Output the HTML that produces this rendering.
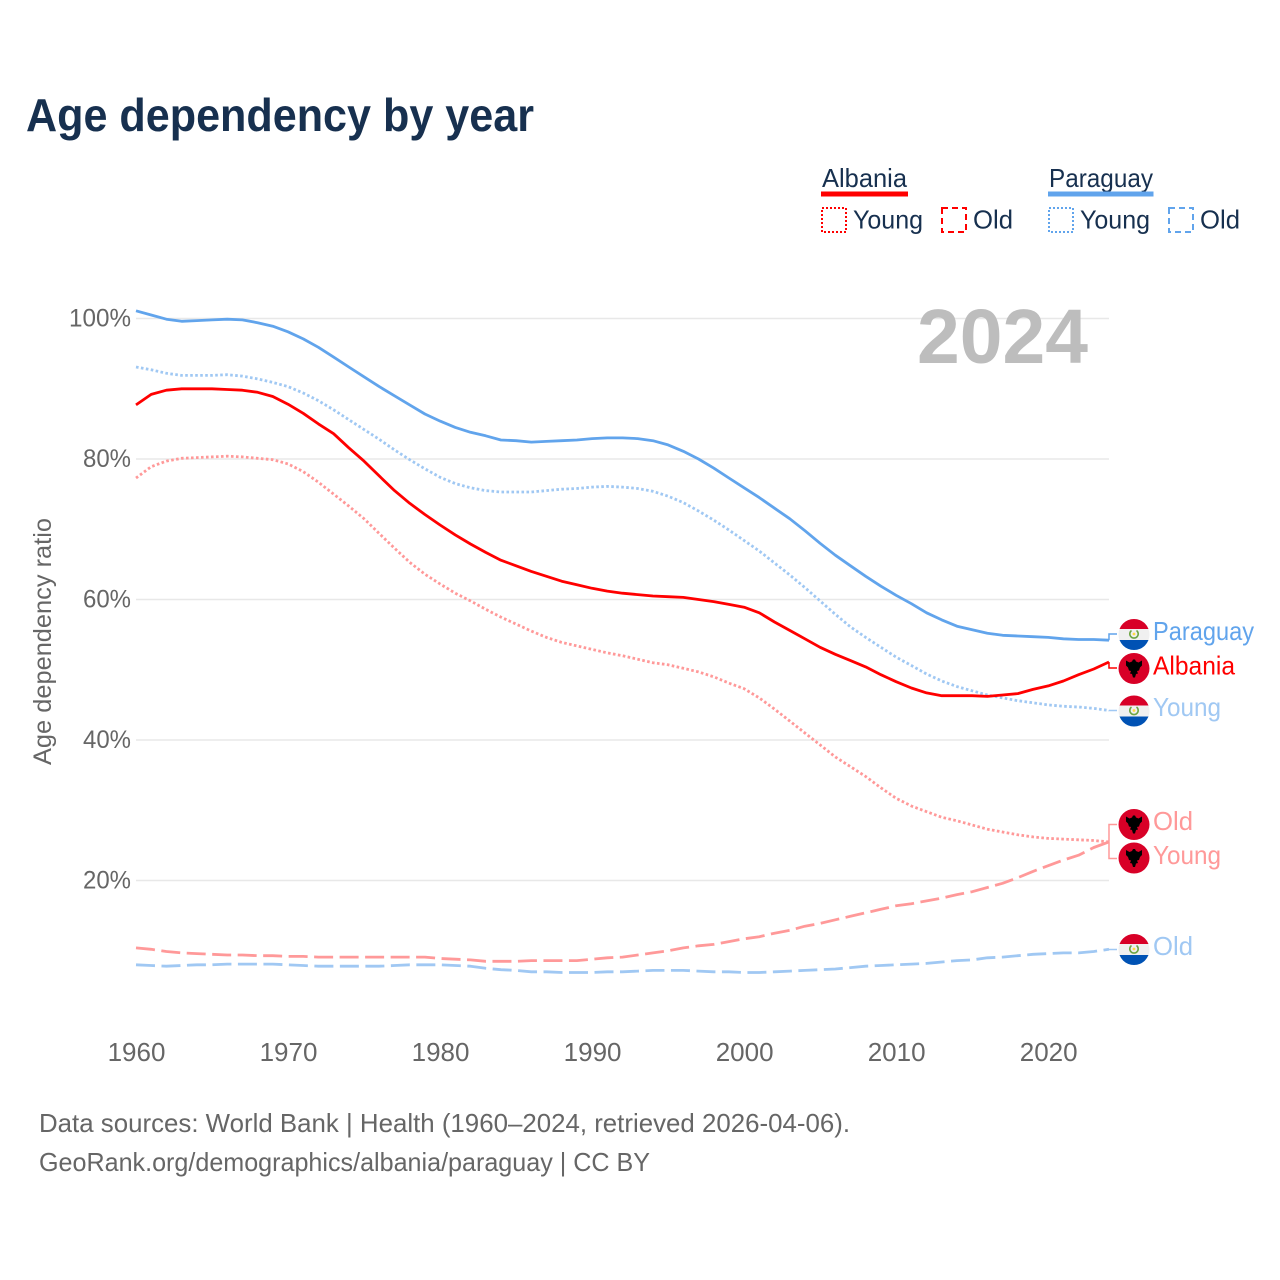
<!DOCTYPE html>
<html lang="en">
<head>
<meta charset="utf-8">
<title>Age dependency by year</title>
<style>
html,body{margin:0;padding:0;background:#fff}
svg{display:block}
text{font-family:"Liberation Sans",sans-serif}
</style>
</head>
<body>
<svg id="chart" width="1280" height="1280" viewBox="0 0 1280 1280">
  <defs>
    <clipPath id="flag-clip"><circle cx="0" cy="0" r="15.500"/></clipPath>
    <symbol id="flag-py" overflow="visible">
      <g clip-path="url(#flag-clip)">
        <rect x="-16" y="-16" width="32" height="10.500" fill="#d80027"/>
        <rect x="-16" y="-5.500" width="32" height="11" fill="#f0f0f0"/>
        <rect x="-16" y="5.500" width="32" height="10.500" fill="#0052b4"/>
        <path d="M-2.500 -4 A4.200 4.200 0 1 0 2.500 -4" fill="none" stroke="#6da544" stroke-width="1.600"/>
        <circle cx="0" cy="-0.500" r="1.400" fill="#ffda44"/>
      </g>
    </symbol>
    <symbol id="flag-al" overflow="visible">
      <circle cx="0" cy="0" r="15.500" fill="#d80027"/>
      <path d="M-8 -8 L-4.500 -6 L-2 -7 L-1 -9 L1 -9 L2 -7 L4.500 -6 L8 -8 L8 -3 L6 -1 L5 2 L3 2.500 L4 5 L2 5.500 L1 9 L-1 9 L-2 5.500 L-4 5 L-3 2.500 L-5 2 L-6 -1 L-8 -3 Z" fill="#000"/>
    </symbol>
  </defs>

  <rect x="0" y="0" width="1280" height="1280" fill="#fff"/>

  <text x="26" y="131" font-size="46" font-weight="700" fill="#17304f" textLength="508" lengthAdjust="spacingAndGlyphs">Age dependency by year</text>

  <g>
    <text x="822" y="187" font-size="26" fill="#17304f" textLength="85" lengthAdjust="spacingAndGlyphs">Albania</text>
    <rect x="821" y="191.500" width="87" height="5" fill="#ff0000"/>
    <rect x="822" y="208" width="24" height="24" fill="none" stroke="#ff0000" stroke-width="2" stroke-dasharray="2 2"/>
    <text x="853" y="228.500" font-size="26" fill="#17304f" textLength="70" lengthAdjust="spacingAndGlyphs">Young</text>
    <rect x="942" y="208" width="24" height="24" fill="none" stroke="#ff0000" stroke-width="2" stroke-dasharray="6 4"/>
    <text x="973" y="228.500" font-size="26" fill="#17304f" textLength="40" lengthAdjust="spacingAndGlyphs">Old</text>
    <text x="1049" y="187" font-size="26" fill="#17304f" textLength="104" lengthAdjust="spacingAndGlyphs">Paraguay</text>
    <rect x="1048" y="191.500" width="105.500" height="5" fill="#61a4ec"/>
    <rect x="1049" y="208" width="24" height="24" fill="none" stroke="#61a4ec" stroke-width="2" stroke-dasharray="2 2"/>
    <text x="1080" y="228.500" font-size="26" fill="#17304f" textLength="70" lengthAdjust="spacingAndGlyphs">Young</text>
    <rect x="1169" y="208" width="24" height="24" fill="none" stroke="#61a4ec" stroke-width="2" stroke-dasharray="6 4"/>
    <text x="1200" y="228.500" font-size="26" fill="#17304f" textLength="40" lengthAdjust="spacingAndGlyphs">Old</text>
  </g>

  <g id="grid"></g>
  <g id="y-ticks"></g>
  <g id="x-ticks"></g>

  <text x="917" y="363" font-size="77" font-weight="700" fill="#bdbdbd" textLength="171" lengthAdjust="spacingAndGlyphs">2024</text>

  <text transform="translate(51,765) rotate(-90)" font-size="25" fill="#666666" textLength="247" lengthAdjust="spacingAndGlyphs">Age dependency ratio</text>

  <g id="series"></g>
  <g id="connectors"></g>

  <g>
    <use href="#flag-py" x="1134" y="634.500"/>
    <text x="1153" y="640" font-size="26" fill="#61a4ec" textLength="101" lengthAdjust="spacingAndGlyphs">Paraguay</text>
    <use href="#flag-al" x="1134" y="668.500"/>
    <text x="1153" y="674.500" font-size="26" fill="#ff0000" textLength="82" lengthAdjust="spacingAndGlyphs">Albania</text>
    <use href="#flag-py" x="1134" y="711"/>
    <text x="1153" y="716" font-size="26" fill="#a0c8f3" textLength="68" lengthAdjust="spacingAndGlyphs">Young</text>
    <use href="#flag-al" x="1134" y="824.500"/>
    <text x="1153" y="830" font-size="26" fill="#ff9999" textLength="40" lengthAdjust="spacingAndGlyphs">Old</text>
    <use href="#flag-al" x="1134" y="858"/>
    <text x="1153" y="864" font-size="26" fill="#ff9999" textLength="68" lengthAdjust="spacingAndGlyphs">Young</text>
    <use href="#flag-py" x="1134" y="949.500"/>
    <text x="1153" y="955" font-size="26" fill="#a0c8f3" textLength="40" lengthAdjust="spacingAndGlyphs">Old</text>
  </g>

  <text x="39" y="1132" font-size="26" fill="#666666" textLength="811" lengthAdjust="spacingAndGlyphs">Data sources: World Bank | Health (1960–2024, retrieved 2026-04-06).</text>
  <text x="39" y="1171" font-size="26" fill="#666666" textLength="611" lengthAdjust="spacingAndGlyphs">GeoRank.org/demographics/albania/paraguay | CC BY</text>
</svg>

<script>
const startYear = 1960;
const xTickYears = [1960, 1970, 1980, 1990, 2000, 2010, 2020];
const yTickValues = [20, 40, 60, 80, 100];

const paraguayTotal = [101.1,100.5,99.9,99.6,99.7,99.8,99.9,99.8,99.4,98.9,98.1,97.1,95.9,94.5,93.1,91.7,90.3,89.0,87.7,86.4,85.4,84.5,83.8,83.3,82.7,82.6,82.4,82.5,82.6,82.7,82.9,83.0,83.0,82.9,82.6,82.0,81.1,80.0,78.7,77.3,75.9,74.5,73.0,71.5,69.8,68.0,66.3,64.8,63.3,61.9,60.6,59.4,58.1,57.1,56.2,55.7,55.2,54.9,54.8,54.7,54.6,54.4,54.3,54.3,54.2];
const paraguayYoung = [93.1,92.7,92.2,91.9,91.9,91.9,92.0,91.8,91.4,90.9,90.3,89.4,88.3,87.0,85.6,84.2,82.8,81.3,79.9,78.6,77.4,76.5,75.9,75.5,75.3,75.3,75.3,75.5,75.7,75.8,76.0,76.1,76.0,75.8,75.4,74.7,73.8,72.6,71.3,69.9,68.4,66.9,65.2,63.5,61.7,59.8,57.9,56.1,54.6,53.2,51.8,50.6,49.4,48.4,47.6,47.0,46.4,46.0,45.6,45.3,45.0,44.8,44.7,44.5,44.2];
const paraguayOld = [8.0,7.9,7.8,7.9,8.0,8.0,8.1,8.1,8.1,8.1,8.0,7.9,7.8,7.8,7.8,7.8,7.8,7.9,8.0,8.0,8.0,7.9,7.8,7.5,7.3,7.2,7.0,7.0,6.9,6.9,6.9,7.0,7.0,7.1,7.2,7.2,7.2,7.1,7.0,7.0,6.9,6.9,7.0,7.1,7.2,7.3,7.4,7.6,7.8,7.9,8.0,8.1,8.2,8.4,8.6,8.7,9.0,9.1,9.3,9.5,9.6,9.7,9.7,9.9,10.2];
const albaniaTotal = [87.7,89.2,89.8,90.0,90.0,90.0,89.9,89.8,89.5,88.9,87.8,86.5,85.0,83.6,81.6,79.7,77.6,75.5,73.7,72.1,70.6,69.2,67.9,66.7,65.6,64.8,64.0,63.3,62.6,62.1,61.6,61.2,60.9,60.7,60.5,60.4,60.3,60.0,59.7,59.3,58.9,58.1,56.8,55.6,54.4,53.2,52.2,51.3,50.4,49.3,48.3,47.4,46.7,46.3,46.3,46.3,46.2,46.4,46.6,47.2,47.7,48.4,49.3,50.1,51.1];
const albaniaYoung = [77.3,78.9,79.7,80.1,80.2,80.3,80.4,80.3,80.1,79.9,79.3,78.2,76.7,75.0,73.3,71.5,69.4,67.3,65.3,63.6,62.2,60.9,59.8,58.6,57.5,56.5,55.5,54.6,53.9,53.4,52.9,52.4,52.0,51.5,51.0,50.7,50.2,49.7,49.0,48.1,47.3,46.0,44.4,42.7,41.0,39.3,37.6,36.2,34.8,33.2,31.7,30.6,29.8,29.0,28.5,27.9,27.3,26.9,26.5,26.2,26.0,25.9,25.8,25.7,25.5];
const albaniaOld = [10.4,10.2,9.9,9.7,9.6,9.5,9.4,9.4,9.3,9.3,9.2,9.2,9.1,9.1,9.1,9.1,9.1,9.1,9.1,9.1,8.9,8.8,8.7,8.5,8.5,8.5,8.6,8.6,8.6,8.6,8.8,9.0,9.1,9.4,9.7,10.0,10.4,10.7,10.9,11.3,11.7,12.0,12.5,12.9,13.5,13.9,14.4,14.9,15.4,15.9,16.4,16.7,17.1,17.5,18.0,18.4,19.0,19.6,20.4,21.3,22.1,22.9,23.6,24.7,25.5];

const SVG_NS = 'http://www.w3.org/2000/svg';
const xScale = function (year) { return 136 + (year - 1960) * 15.203; };
const yScale = function (pct) { return 318.5 + (100 - pct) * 7.025; };

const gridGroup = document.getElementById('grid');
const yTickGroup = document.getElementById('y-ticks');
const xTickGroup = document.getElementById('x-ticks');
const seriesGroup = document.getElementById('series');
const connectorGroup = document.getElementById('connectors');

yTickValues.forEach(function (v) {
  const line = document.createElementNS(SVG_NS, 'line');
  line.setAttribute('x1', xScale(1960));
  line.setAttribute('x2', xScale(2024));
  line.setAttribute('y1', yScale(v));
  line.setAttribute('y2', yScale(v));
  line.setAttribute('stroke', '#e8e8e8');
  line.setAttribute('stroke-width', '1.500');
  
  
  gridGroup.appendChild(line);

  const label = document.createElementNS(SVG_NS, 'text');
  label.setAttribute('x', 131);
  label.setAttribute('y', yScale(v) + 8);
  label.setAttribute('text-anchor', 'end');
  label.setAttribute('font-size', '25');
  label.setAttribute('fill', '#666666');
  label.setAttribute('textLength', v === 100 ? 62 : 48);
  label.setAttribute('lengthAdjust', 'spacingAndGlyphs');
  label.textContent = v + '%';
  
  
  yTickGroup.appendChild(label);
});

xTickYears.forEach(function (year) {
  const label = document.createElementNS(SVG_NS, 'text');
  label.setAttribute('x', xScale(year) + 0.5);
  label.setAttribute('y', 1061);
  label.setAttribute('text-anchor', 'middle');
  label.setAttribute('font-size', '26');
  label.setAttribute('fill', '#666666');
  label.textContent = year;
  
  
  xTickGroup.appendChild(label);
});

function drawLine(values, color, dash, width) {
  const pts = values.map(function (v, i) {
    return xScale(startYear + i).toFixed(1) + ',' + yScale(v).toFixed(1);
  }).join(' ');
  const line = document.createElementNS(SVG_NS, 'polyline');
  line.setAttribute('points', pts);
  line.setAttribute('fill', 'none');
  line.setAttribute('stroke', color);
  line.setAttribute('stroke-width', width);
  line.setAttribute('stroke-linejoin', 'round');
  if (dash) line.setAttribute('stroke-dasharray', dash);
  seriesGroup.appendChild(line);
  return line;
}

const lineAlbaniaOld = drawLine(albaniaOld, '#ff9999', '19 6.5', 2.8);


const lineParaguayOld = drawLine(paraguayOld, '#a0c8f3', '19 6.5', 2.8);


const lineAlbaniaYoung = drawLine(albaniaYoung, '#ff9999', '2.6 2.4', 2.8);


const lineParaguayYoung = drawLine(paraguayYoung, '#a0c8f3', '2.6 2.4', 2.8);


const lineParaguayTotal = drawLine(paraguayTotal, '#61a4ec', '', 2.8);


const lineAlbaniaTotal = drawLine(albaniaTotal, '#ff0000', '', 2.8);



function drawConnector(values, labelY, color) {
  const endY = yScale(values[values.length - 1]);
  const path = document.createElementNS(SVG_NS, 'path');
  path.setAttribute('d', 'M' + xScale(2024) + ' ' + endY + ' V' + labelY + ' H1117');
  path.setAttribute('fill', 'none');
  path.setAttribute('stroke', color);
  path.setAttribute('stroke-width', '1.500');
  connectorGroup.appendChild(path);
  return path;
}

const connectorParaguayTotal = drawConnector(paraguayTotal, 634, '#61a4ec');


const connectorAlbaniaTotal = drawConnector(albaniaTotal, 668, '#ff0000');


const connectorParaguayYoung = drawConnector(paraguayYoung, 710.5, '#a0c8f3');


const connectorAlbaniaOld = drawConnector(albaniaOld, 824.5, '#ff9999');


const connectorAlbaniaYoung = drawConnector(albaniaYoung, 858.5, '#ff9999');


const connectorParaguayOld = drawConnector(paraguayOld, 949.5, '#a0c8f3');


</script>
</body>
</html>
